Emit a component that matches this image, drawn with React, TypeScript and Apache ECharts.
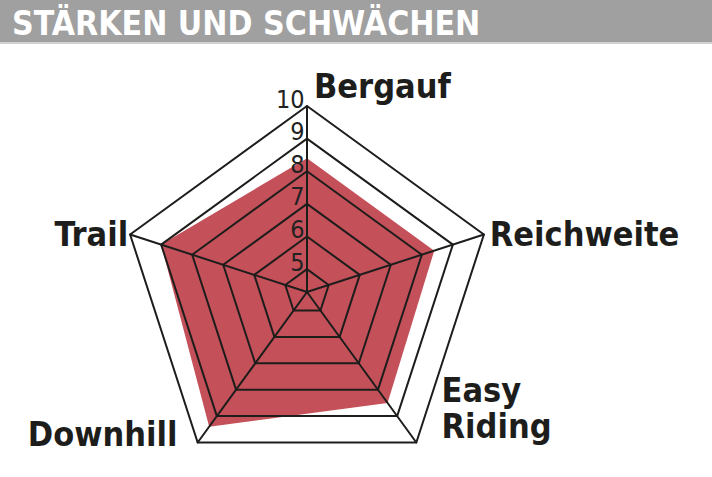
import { useEffect, useRef } from "react";
import * as echarts from "echarts";

// Werte
const indicatorNames = ["Bergauf", "Trail", "Downhill", "Easy\nRiding", "Reichweite"];
const scores = [8.4, 9.0, 9.4, 8.5, 8.4];
const ringTicks = [5, 6, 7, 8, 9, 10];
const scaleMin = 4.3;
const scaleMax = 10;
const titleText = "STÄRKEN UND SCHWÄCHEN";

const INK = "#1d1d1b";
const RED = "#c4505a";
const FONT = "'DejaVu Sans Condensed', 'DejaVu Sans', sans-serif";

// Ausrichtung der Achsennamen um die Ecken
const nameStyles: Record<string, any> = {
  Bergauf: { align: "left", verticalAlign: "bottom", padding: [0, 0, 0, 7] },
  Trail: { align: "right", verticalAlign: "middle" },
  Downhill: { align: "right", verticalAlign: "bottom", lineHeight: 20, padding: [0, 19, 0, 0] },
  "Easy\nRiding": { align: "left", verticalAlign: "bottom", lineHeight: 36, padding: [0, 0, 0, 24] },
  Reichweite: { align: "left", verticalAlign: "middle", padding: [0, 0, 0, 4] },
};

export default function App() {
  const ref = useRef<HTMLDivElement>(null);

  useEffect(() => {
    if (!ref.current) return;
    const chart = echarts.init(ref.current, null, { renderer: "svg" });

    chart.setOption({
      animation: false,
      backgroundColor: "#ffffff",
      graphic: [
        { type: "rect", z: 0, shape: { x: 0, y: 0, width: 712, height: 42 }, style: { fill: "#a0a0a0" } },
        { type: "rect", z: 0, shape: { x: 0, y: 42, width: 712, height: 2 }, style: { fill: "#d2d2d2" } },
      ],
      title: {
        text: titleText,
        left: 12,
        top: 4,
        padding: 0,
        z: 10,
        textStyle: {
          color: "#ffffff",
          fontFamily: FONT,
          fontWeight: "bold",
          fontSize: 33.5,
          lineHeight: 38,
        },
      },
      radar: {
        center: [307, 292],
        radius: 186,
        startAngle: 90,
        shape: "polygon",
        z: 5,
        nameGap: 2,
        splitNumber: 1,
        indicator: indicatorNames.map(n => ({
          name: n,
          min: scaleMin,
          max: scaleMax,
          nameTextStyle: nameStyles[n],
        })),
        axisName: {
          color: INK,
          fontFamily: FONT,
          fontWeight: "bold",
          fontSize: 34,
          lineHeight: 37,
        },
        axisLine: { lineStyle: { color: INK, width: 2 } },
        axisTick: { show: false },
        axisLabel: { show: false },
        splitLine: { show: false },
        splitArea: { show: false },
      },
      series: [
        {
          type: "radar",
          z: 2,
          silent: true,
          symbol: "none",
          lineStyle: { width: 0, opacity: 0 },
          areaStyle: { color: RED, opacity: 1 },
          data: [{ value: scores }],
        },
        {
          type: "radar",
          z: 6,
          silent: true,
          symbol: "circle",
          symbolSize: 1,
          itemStyle: { color: INK },
          lineStyle: { color: INK, width: 2 },
          label: {
            show: true,
            position: "left",
            distance: 2,
            offset: [0, -7],
            color: "#222222",
            fontFamily: FONT,
            fontWeight: "normal",
            fontSize: 25,
            formatter: (p: any) => (p.dimensionIndex === 0 ? String(p.value) : ""),
          },
          data: ringTicks.map(v => ({ value: indicatorNames.map(() => v) })),
        },
      ],
    });

    return () => chart.dispose();
  }, []);

  return (
    <div
      ref={ref}
      style={{ position: "fixed", left: 0, top: 0, width: 712, height: 477 }}
    />
  );
}
